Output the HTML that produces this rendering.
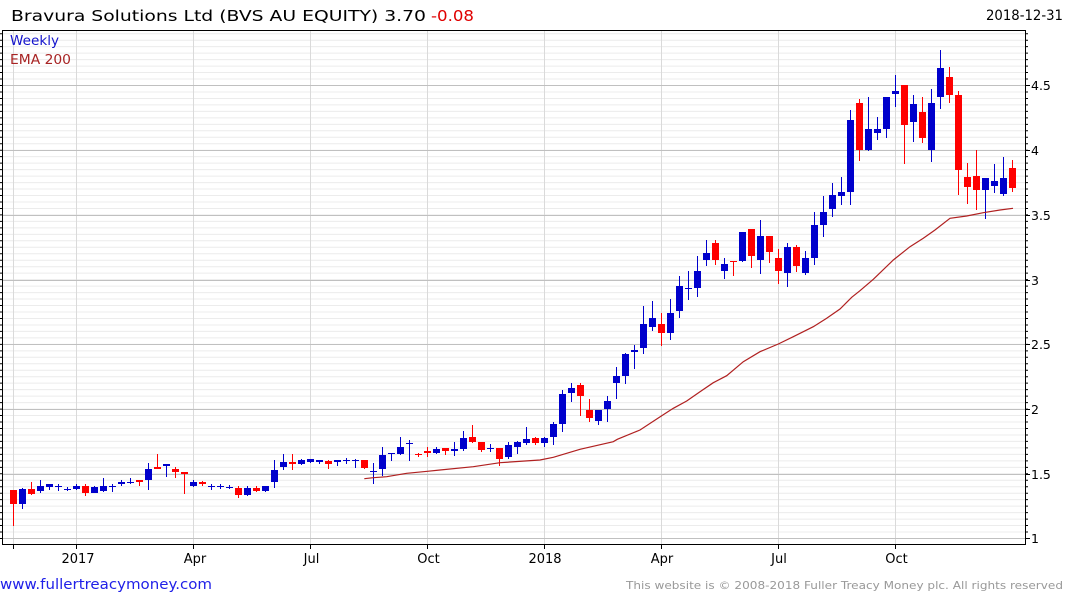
<!DOCTYPE html>
<html><head><meta charset="utf-8"><style>
html,body{margin:0;padding:0;background:#fff;}
svg{display:block;}
text{font-family:"DejaVu Sans","Liberation Sans",sans-serif;}
</style></head><body>
<svg width="1075" height="600" viewBox="0 0 1075 600" xmlns="http://www.w3.org/2000/svg">
<rect width="1075" height="600" fill="#fff"/>
<line x1="513.5" y1="539" x2="513.5" y2="31" stroke="#ececec" stroke-width="1023" stroke-dasharray="1 5.4715"/>
<g shape-rendering="crispEdges" fill="none">
<path stroke="#dadada" d="M13.5 30V544M76.5 30V544M193.5 30V544M310.5 30V544M427.5 30V544M544.5 30V544M661.5 30V544M778.5 30V544M895.5 30V544"/>
<path stroke="#c0c0c0" d="M2 538.5H1025M2 474.5H1025M2 409.5H1025M2 344.5H1025M2 280.5H1025M2 215.5H1025M2 150.5H1025M2 85.5H1025"/>
<path stroke="#000" d="M2.5 30.5H1025.5V544.5H2.5Z"/>
<path stroke="#000" d="M1025 538.5h5M1025 474.5h5M1025 409.5h5M1025 344.5h5M1025 280.5h5M1025 215.5h5M1025 150.5h5M1025 85.5h5"/>
<path stroke="#000" d="M13.5 544V549M76.5 544V549M193.5 544V549M310.5 544V549M427.5 544V549M544.5 544V549M661.5 544V549M778.5 544V549M895.5 544V549"/>
</g>
<line x1="1026.5" y1="539" x2="1026.5" y2="31" stroke="#000" stroke-width="3" stroke-dasharray="1 5.4715"/>
<line x1="1" y1="539" x2="1" y2="31" stroke="#000" stroke-width="2" stroke-dasharray="1 5.4715"/>

<g fill="none" shape-rendering="crispEdges">
<path stroke="#ff0000" stroke-width="1" d="M13.5 490V526M31.5 482V495M85.5 484V496M139.5 480V486M157.5 454V469M175.5 467V478M184.5 472V494M202.5 481V486M238.5 486V498M256.5 486V492M292.5 454V470M328.5 460V469M364.5 460V469M418.5 453V457M427.5 447V457M445.5 448V455M472.5 425V443M481.5 442V452M499.5 448V466M535.5 437V445M580.5 383V416M589.5 399V422M661.5 313V346M715.5 240V265M733.5 261V276M751.5 229V268M769.5 236V263M778.5 249V284M796.5 245V272M859.5 99V161M904.5 85V164M922.5 97V143M949.5 67V103M958.5 91V195M967.5 163V204M976.5 150V210M1012.5 160V192"/>
<path stroke="#ff0000" stroke-width="7" d="M13.5 490V504M31.5 489V494M85.5 486V493M139.5 480V482M157.5 467V469M175.5 469V472M184.5 472V474M202.5 482V484M238.5 488V495M256.5 488V491M292.5 462V464M328.5 461V464M364.5 460V468M418.5 454V455M427.5 451V453M445.5 448V451M472.5 437V442M481.5 442V450M499.5 448V459M535.5 438V443M580.5 385V396M589.5 410V418M661.5 324V333M715.5 243V260M733.5 261V262M751.5 229V256M769.5 236V252M778.5 258V271M796.5 247V266M859.5 103V150M904.5 85V125M922.5 112V138M949.5 77V95M958.5 95V170M967.5 177V187M976.5 176V190M1012.5 168V188"/>
<path stroke="#0000cc" stroke-width="1" d="M22.5 488V509M40.5 480V493M49.5 484V490M58.5 484V491M67.5 487V491M76.5 484V490M94.5 486V493M103.5 478V492M112.5 484V492M121.5 480V486M130.5 478V484M148.5 463V490M166.5 464V477M193.5 480V487M211.5 484V490M220.5 484V489M229.5 485V489M247.5 486V496M265.5 486V492M274.5 460V488M283.5 454V470M301.5 459V465M310.5 459V463M319.5 460V464M337.5 460V466M346.5 458V464M355.5 459V468M373.5 463V484M382.5 447V476M391.5 453V461M400.5 437V455M409.5 440V461M436.5 447V454M454.5 442V456M463.5 431V451M490.5 444V452M508.5 442V459M517.5 441V454M526.5 427V445M544.5 437V447M553.5 422V445M562.5 390V432M571.5 383V402M598.5 410V425M607.5 396V422M616.5 367V399M625.5 353V384M634.5 345V369M643.5 306V354M652.5 301V331M670.5 299V340M679.5 276V318M688.5 271V300M697.5 256V297M706.5 240V266M724.5 258V279M742.5 232V262M760.5 220V274M787.5 243V287M805.5 251V275M814.5 212V265M823.5 196V237M832.5 183V217M841.5 177V205M850.5 110V205M868.5 97V151M877.5 117V140M886.5 97V138M895.5 75V107M913.5 95V142M931.5 89V162M940.5 50V109M985.5 178V219M994.5 164V193M1003.5 157V196"/>
<path stroke="#0000cc" stroke-width="7" d="M22.5 489V504M40.5 486V491M49.5 484V487M58.5 486V487M67.5 489V490M76.5 486V489M94.5 487V493M103.5 486V491M112.5 486V487M121.5 482V484M130.5 482V483M148.5 469V480M166.5 464V466M193.5 482V486M211.5 486V487M220.5 486V487M229.5 487V488M247.5 488V495M265.5 486V491M274.5 470V482M283.5 462V467M301.5 460V464M310.5 459V462M319.5 460V462M337.5 460V462M346.5 460V461M355.5 460V461M373.5 471V472M382.5 455V469M391.5 453V454M400.5 447V454M409.5 443V444M436.5 449V453M454.5 449V451M463.5 438V449M490.5 448V449M508.5 445V457M517.5 442V447M526.5 439V443M544.5 438V443M553.5 424V437M562.5 394V424M571.5 388V393M598.5 410V421M607.5 401V409M616.5 376V383M625.5 354V376M634.5 350V352M643.5 324V348M652.5 318V327M670.5 313V333M679.5 286V311M688.5 288V289M697.5 271V288M706.5 253V260M724.5 264V271M742.5 232V261M760.5 236V260M787.5 247V273M805.5 258V273M814.5 225V258M823.5 212V225M832.5 195V209M841.5 192V196M850.5 120V192M868.5 129V150M877.5 129V133M886.5 97V129M895.5 91V94M913.5 104V122M931.5 103V150M940.5 68V97M985.5 178V190M994.5 181V186M1003.5 178V194"/>
</g>

<polyline fill="none" stroke="#b02020" stroke-width="1.2" points="364.3,478.7 373.3,477.7 386.7,476.7 406.7,473.3 427.3,471.3 440,470 473.3,466.7 500,462.7 540,460 553.3,457.3 580,449.3 613.3,441.7 617.3,439.3 640,430 661.7,415.7 673.3,408.3 686.7,401 700,391.7 713.3,382.7 726.7,375.7 743.3,361.7 760,351.7 778.3,344 793.3,336.7 813.3,326.7 826.7,318.3 840,309 851.7,297.3 860,290.7 873.3,279.3 893.3,260 910,246.7 923.3,238.3 935,230 950,218.3 966.7,216 983.3,212.7 1000,210 1013,208.3"/>

<text x="11" y="21" font-size="15.5" fill="#000" textLength="415" lengthAdjust="spacingAndGlyphs">Bravura Solutions Ltd (BVS AU EQUITY) 3.70</text>
<text x="431" y="21" font-size="15.5" fill="#e00000" textLength="43" lengthAdjust="spacingAndGlyphs">-0.08</text>
<text x="986" y="20" font-size="14" fill="#000" textLength="77" lengthAdjust="spacingAndGlyphs">2018-12-31</text>
<text x="10" y="45" font-size="13" fill="#1414cc" textLength="49" lengthAdjust="spacingAndGlyphs">Weekly</text>
<text x="10" y="64" font-size="13" fill="#a82424" textLength="61" lengthAdjust="spacingAndGlyphs">EMA 200</text>

<g font-size="12.5" fill="#000">
<text x="1031" y="90">4.5</text>
<text x="1031" y="155">4</text>
<text x="1031" y="220">3.5</text>
<text x="1031" y="285">3</text>
<text x="1031" y="349">2.5</text>
<text x="1031" y="414">2</text>
<text x="1031" y="479">1.5</text>
<text x="1031" y="543">1</text>
</g>
<g font-size="13" fill="#000" text-anchor="middle">
<text x="78" y="563">2017</text>
<text x="195" y="563">Apr</text>
<text x="311.5" y="563">Jul</text>
<text x="428.5" y="563">Oct</text>
<text x="545" y="563">2018</text>
<text x="662" y="563">Apr</text>
<text x="779" y="563">Jul</text>
<text x="896.5" y="563">Oct</text>
</g>
<text x="0" y="589" font-size="14" fill="#2020e8" textLength="212" lengthAdjust="spacingAndGlyphs">www.fullertreacymoney.com</text>
<text x="626" y="589" font-size="11" fill="#999" textLength="437" lengthAdjust="spacingAndGlyphs">This website is © 2008-2018 Fuller Treacy Money plc. All rights reserved</text>
</svg>
</body></html>
